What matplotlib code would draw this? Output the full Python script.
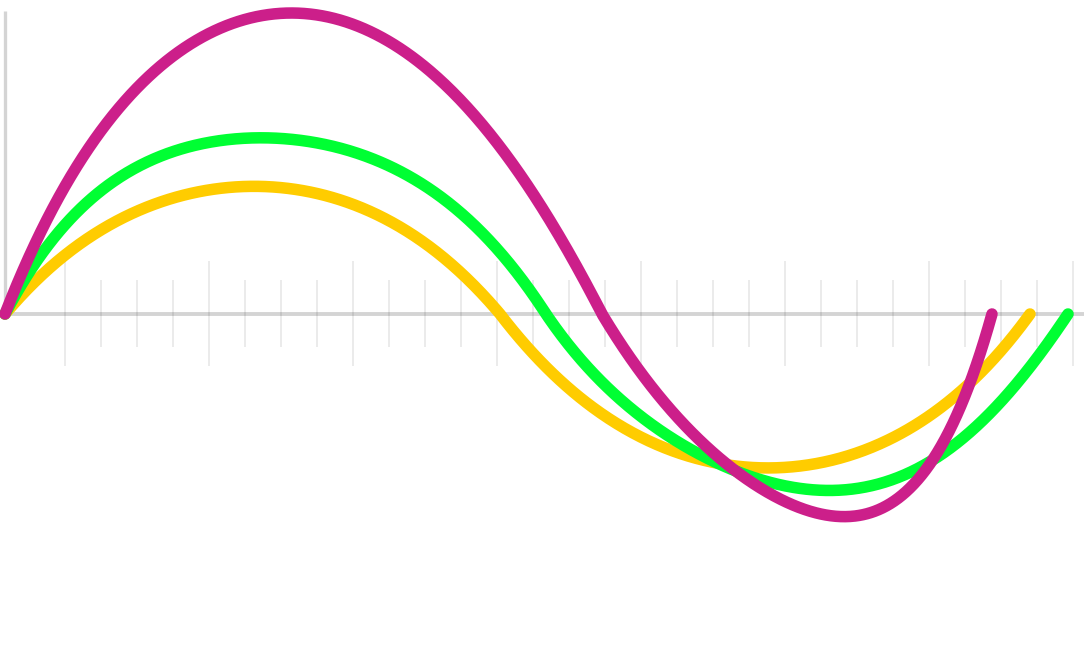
import numpy as np
import matplotlib
matplotlib.use("Agg")
import matplotlib.pyplot as plt

# ---- data (x: distance from origin, y: height above baseline) ----
magenta_x = [0, 37, 52, 70, 93, 120, 158, 198, 225, 258, 283, 310, 345, 370, 422, 488, 538, 572, 597,
             625, 658, 708, 742, 775, 795, 835, 878, 922, 948, 968, 982, 987]
magenta_y = [0, 81, 114, 147, 181, 214, 247, 274, 292, 299, 302, 300, 292, 278, 246, 174, 107, 47, 0,
             -46, -86, -136, -166, -186, -195, -202, -193, -153, -109, -63, -19, 0]

green_x = [0, 27, 52, 85, 135, 195, 230, 258, 290, 315, 355, 422, 488, 522, 541,
           558, 608, 658, 708, 758, 775, 800, 823, 845, 895, 945, 995, 1028, 1055, 1063]
green_y = [0, 47, 81, 114, 147, 169, 175, 177, 176, 172, 157, 127, 67, 34, 0,
           -23, -79, -119, -146, -166, -172, -175, -176, -175, -164, -133, -89, -49, -13, 0]

yellow_x = [0, 48, 92, 145, 195, 220, 245, 270, 315, 355, 422, 472, 495,
            505, 542, 592, 642, 692, 742, 770, 815, 845, 895, 945, 985, 1008, 1025]
yellow_y = [0, 50, 81, 107, 123, 127, 128, 127, 119, 106, 71, 24, 0,
            -16, -53, -96, -126, -146, -153, -152, -149, -143, -119, -86, -49, -23, 0]

tick_positions = [59.5 + 36 * k for k in range(29)]
major_every = 4

colors = {"yellow": "#FFCC00", "green": "#00FF33", "magenta": "#CC1F8A"}


def smooth_arcs(x, y, deg=3, n=400):
    """Render each hump between zero crossings as a smooth least-squares arc."""
    x = np.asarray(x, float)
    y = np.asarray(y, float)
    zeros = [i for i in range(len(y)) if y[i] == 0]
    out_x, out_y = [], []
    for a, b in zip(zeros[:-1], zeros[1:]):
        x0, x1 = x[a], x[b]
        u = (x[a:b + 1] - x0) / (x1 - x0)
        v = y[a:b + 1]
        A = np.stack([u * (1 - u) * u**k for k in range(deg + 1)], axis=1)
        coef, *_ = np.linalg.lstsq(A, v, rcond=None)
        uu = np.linspace(0, 1, n)
        vv = sum(c * uu * (1 - uu) * uu**k for k, c in enumerate(coef))
        out_x.append(x0 + uu * (x1 - x0))
        out_y.append(vv)
    return np.concatenate(out_x), np.concatenate(out_y)


fig = plt.figure(figsize=(10.84, 6.70), dpi=100)
ax = fig.add_axes([0, 0, 1, 1])
ax.set_xlim(-5, 1079)
ax.set_ylim(-356, 314)
ax.axis("off")

# ticks
for k, tx in enumerate(tick_positions):
    major = (k % major_every == 0)
    half = 52.5 if major else 33.5
    ax.vlines(tx, -half, half, color="black", alpha=0.08, lw=1.4, zorder=1)

# axes lines
ax.hlines(0, -5, 1079, color="black", alpha=0.17, lw=2.8, zorder=2)
ax.vlines(0, 0, 303, color="black", alpha=0.17, lw=2.4, zorder=2)

for xs, ys, c in [(yellow_x, yellow_y, colors["yellow"]),
                  (green_x, green_y, colors["green"]),
                  (magenta_x, magenta_y, colors["magenta"])]:
    sx, sy = smooth_arcs(xs, ys)
    ax.plot(sx, sy, color=c, lw=8.3, solid_capstyle="round", solid_joinstyle="round", zorder=3)

fig.savefig("out.png", dpi=100)
